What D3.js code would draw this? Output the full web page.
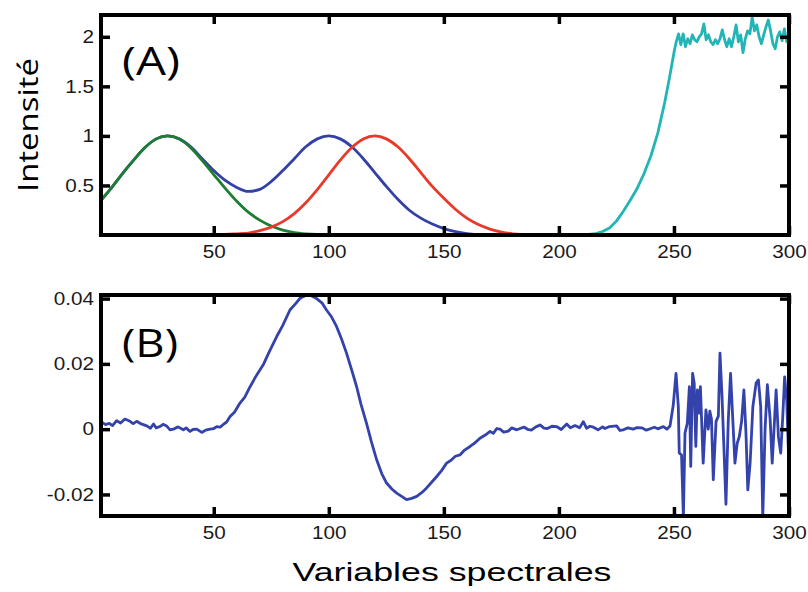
<!DOCTYPE html>
<html>
<head>
<meta charset="utf-8">
<script src="https://cdn.jsdelivr.net/npm/d3@7"></script>
<style>
  body { margin: 0; background: #fff; }
  svg { display: block; }
</style>
</head>
<body>
<script>
'use strict';

// ---- panel (A) : reference spectra ----
const greenX = [1, 5, 10, 15, 20, 25, 30, 35, 40, 45, 50, 55, 60, 65, 70, 75, 80, 85, 90, 95, 100, 105];
const greenY = [0.35, 0.46, 0.61, 0.75, 0.88, 0.97, 1.0, 0.97, 0.88, 0.75, 0.61, 0.47, 0.34, 0.23, 0.15, 0.09, 0.05, 0.025, 0.012, 0.005, 0.002, 0];

const blueX = [1, 5, 10, 15, 20, 25, 30, 35, 40, 45, 50, 55, 60, 65, 70, 75, 80, 85, 90, 95, 100,
  105, 110, 115, 120, 125, 130, 135, 140, 145, 150, 155, 160, 165];
const blueY = [0.35, 0.46, 0.61, 0.75, 0.88, 0.97, 1.0, 0.97, 0.89, 0.77, 0.65, 0.55, 0.48, 0.44, 0.46, 0.54, 0.65, 0.77, 0.89, 0.97, 1.0,
  0.97, 0.89, 0.77, 0.63, 0.49, 0.36, 0.25, 0.17, 0.11, 0.065, 0.035, 0.015, 0.004];

const redX = [1, 55, 60, 65, 70, 75, 80, 85, 90, 95, 100, 105, 110, 115, 120, 125, 130, 135, 140,
  145, 150, 155, 160, 165, 170, 175, 180, 185, 190, 300];
const redY = [0.004, 0.006, 0.012, 0.02, 0.044, 0.08, 0.135, 0.216, 0.325, 0.458, 0.607, 0.755, 0.882, 0.969, 1.0, 0.97, 0.89, 0.77, 0.63,
  0.49, 0.37, 0.26, 0.17, 0.105, 0.06, 0.03, 0.012, 0.004, 0, 0];

const cyanX = [1, 210, 213, 216, 219, 222, 225, 228, 231, 234, 237, 240, 243, 246, 248, 250, 251,
  252, 253, 254, 255, 256, 257, 258, 259, 260, 261, 262, 263, 264, 265, 266, 267, 268, 269, 270,
  271, 272, 273, 274, 275, 276, 277, 278, 279, 280, 281, 282, 283, 284, 285, 286, 287, 288, 289,
  290, 291, 292, 293, 294, 295, 296, 297, 298, 299, 300];
const cyanY = [0, 0, 0.005, 0.015, 0.035, 0.07, 0.14, 0.24, 0.35, 0.47, 0.62, 0.8, 1.03, 1.34, 1.58, 1.84, 1.95,
  2.03, 1.92, 2.03, 1.90, 1.98, 1.93, 2.02, 1.97, 1.95, 2.0, 2.03, 2.13, 1.97, 2.02, 1.95, 1.92, 1.97, 1.93, 1.98,
  2.07, 1.97, 1.90, 1.98, 1.90, 2.0, 2.12, 1.95, 2.02, 1.84, 1.98, 2.06, 2.03, 2.2, 2.06, 2.12, 2.0, 1.93, 2.02,
  2.1, 2.17, 2.06, 1.93, 1.88, 2.0, 2.05, 1.96, 2.08, 1.95, 2.04];

// ---- panel (B) : difference spectrum ----
const diffX = [1, 3, 4.6, 6, 7.8, 9.5, 11.4, 13.6, 15, 16.5, 18.5, 20.9, 22.5, 23.8, 25, 26.6, 28, 29.5, 31, 32.4, 34.5,
  36.8, 38, 39.7, 41, 42.6, 44.8, 46.5, 48.4, 50, 51.3, 52.8, 54.2, 55.6, 57.1, 59, 61.4, 63.5, 65.8, 68, 71.5, 74,
  77.3, 80, 83.1, 85.5, 87.5, 89.5, 91.8, 94.7, 97, 99, 101, 103.4, 105.5, 107.7, 110, 112.1, 114, 116.4, 118.5,
  120.8, 123, 125.1, 127.5, 129.5, 131.5, 133.8, 136, 138.2, 140.5, 142.5, 144.5, 146.9, 149, 151.2, 153, 155,
  157, 159, 161.4, 163.5, 165.7, 168, 170.1, 171.5, 173, 174.4, 176, 178, 179.5, 181.7, 183.5, 185, 186.5, 188,
  190, 191.8, 193.5, 195, 197, 199, 201, 203.4, 205, 207, 209, 210.6, 212, 213.5, 215, 217, 219, 220, 222,
  225.1, 226.5, 228, 230, 232.3, 234, 236, 238, 240, 241.5, 243, 245.4, 246.9,
  248.3, 249.7, 250.9, 251.9, 252.3, 253.3, 254.1, 254.8, 255.8, 256.7, 257.3, 258.1, 258.8, 259.5,
  260.2, 261, 261.5, 262.7, 263.9, 264.9, 265.6, 266.3, 267.1, 268.3, 269.3, 270, 270.9, 271.7, 272.6,
  273.6, 274.6, 275.5, 276.5, 277.5, 278.4, 279.4, 280.4, 281.3, 282.1, 283.1, 284.3, 285.7, 286.7,
  287.7, 288.6, 289.6, 290.6, 291.8, 292.7, 293.5, 294.4, 295.4, 296.4, 297.3, 298.1, 299, 300];
const diffY = [0.0023, 0.0014, 0.0018, 0.0011, 0.0026, 0.0019, 0.0031, 0.0024, 0.0017, 0.0024, 0.0016, 0.001, 0.0003, 0.0016,
  0.0004, 0.0008, 0.0015, 0.001, -0.0002, 0.0, 0.0007, -0.0002, 0.0004, -0.0007, -0.0001, 0.0, -0.001, -0.0003, 0.0,
  0.0002, 0.0008, 0.0006, 0.0015, 0.0022, 0.0039, 0.0052, 0.008, 0.0098, 0.013, 0.0158, 0.0197, 0.0235,
  0.0283, 0.0318, 0.0365, 0.0384, 0.0401, 0.0408, 0.0411, 0.040, 0.0387, 0.0365, 0.0346, 0.0314, 0.0277, 0.0233, 0.018,
  0.013, 0.0076, 0.0018, -0.0038, -0.0094, -0.0136, -0.0165, -0.0184, -0.0196, -0.0205, -0.0216, -0.0212, -0.0206,
  -0.0194, -0.018, -0.0164, -0.0145, -0.0127, -0.0104, -0.0096, -0.0083, -0.0079, -0.0064, -0.0053, -0.0042, -0.0028,
  -0.0018, -0.0007, -0.0013, 0.0002, 0.0, -0.0009, -0.0006, 0.0004, -0.0002, 0.0003, 0.0006, -0.0001, -0.0003,
  0.0007, 0.0013, 0.0003, 0.0002, 0.0009, 0.0008, -0.0001, 0.0016, 0.0004, 0.0011, 0.0004, 0.0023, 0.0003, 0.0009,
  0.0006, -0.0002, 0.0007, 0.0002, 0.0008, 0.001, -0.0004, -0.0002, 0.0004, 0.0, 0.0005, 0.0004, -0.0003, 0.0002,
  0.0006, 0.0001, 0.0008, 0.0,
  0.001, 0.0074, 0.0171, 0.0069, -0.0073, -0.0079, -0.027, -0.0012, 0.0018, 0.013, -0.0114, 0.0171, 0.0141, -0.0053,
  0.012, 0.0049, 0.013, -0.0104, 0.0059, 0.0, 0.0055, 0.0031, -0.0155, 0.0024, 0.004, 0.0233, 0.010, -0.0053, -0.023,
  0.0024, 0.0171, 0.004, -0.0104, -0.0043, -0.0023, 0.0024, 0.012, -0.0012, -0.0186, -0.0104, 0.0069, 0.0141, 0.0151,
  0.0069, -0.027, 0.0, 0.0136, 0.0031, -0.0104, 0.0, 0.012, -0.0023, -0.0073, 0.004, 0.016, 0.0089, -0.012];

// ---- ticks and labels ----
const xTicks = [50, 100, 150, 200, 250, 300];
const yTicksA = [0.5, 1, 1.5, 2];
const yTicksB = [-0.02, 0, 0.02, 0.04];
const yLabelA = 'Intensité';
const xLabel = 'Variables spectrales';

const W = 808, H = 592;
const plotLeft = 101, plotRight = 789;
const tickStretch = 1.15; // the reference text looks slightly stretched sideways

const svg = d3.select('body').append('svg')
  .attr('width', W)
  .attr('height', H);

const defs = svg.append('defs');
const xScale = d3.scaleLinear().domain([1, 300]).range([plotLeft, plotRight]);

function addClip(id, top, bottom) {
  defs.append('clipPath').attr('id', id)
    .append('rect')
    .attr('x', plotLeft)
    .attr('y', top)
    .attr('width', plotRight - plotLeft)
    .attr('height', bottom - top);
}

// tick labels plus inward tick marks on all four sides
function drawTicks(yScale, yTicks, top, bottom) {
  let g = svg.append('g');

  let axes = [
    [d3.axisBottom(xScale).tickValues(xTicks).tickPadding(10), 'translate(0,' + bottom + ')'],
    [d3.axisTop(xScale).tickValues(xTicks).tickFormat(() => ''), 'translate(0,' + top + ')'],
    [d3.axisLeft(yScale).tickValues(yTicks).tickFormat(d => String(d)), 'translate(' + plotLeft + ',0)'],
    [d3.axisRight(yScale).tickValues(yTicks).tickFormat(() => ''), 'translate(' + plotRight + ',0)']
  ];

  let groups = axes.map(([axis, tr]) => {
    let a = g.append('g')
      .attr('transform', tr)
      .call(axis.tickSizeInner(-9).tickSizeOuter(0));
    a.select('.domain').remove();
    a.selectAll('.tick line')
      .attr('stroke', '#000')
      .attr('stroke-width', 3.5);
    a.selectAll('.tick text')
      .style('font-family', '"Liberation Sans", Arial, sans-serif')
      .style('font-size', '18px')
      .attr('fill', '#1a1a1a');
    return a;
  });

  groups[0].selectAll('.tick text').attr('transform', 'scale(' + tickStretch + ',1)');
  groups[2].selectAll('.tick text')
    .attr('x', 0)
    .attr('transform', 'translate(-7,0) scale(' + tickStretch + ',1)');
}

function drawBox(top, bottom) {
  svg.append('rect')
    .attr('x', plotLeft)
    .attr('y', top)
    .attr('width', plotRight - plotLeft)
    .attr('height', bottom - top)
    .attr('fill', 'none')
    .attr('stroke', '#000')
    .attr('stroke-width', 4);
}

function plotSeries(xs, ys, yScale, color, clipId, smooth) {
  let line = d3.line()
    .x(d => xScale(d[0]))
    .y(d => yScale(d[1]))
    .curve(smooth ? d3.curveMonotoneX : d3.curveLinear);

  svg.append('path')
    .datum(d3.zip(xs, ys))
    .attr('clip-path', 'url(#' + clipId + ')')
    .attr('fill', 'none')
    .attr('stroke', color)
    .attr('stroke-width', 2.8)
    .attr('stroke-linejoin', 'round')
    .attr('stroke-linecap', 'round')
    .attr('d', line);
}

addClip('clipA', 15, 235);
addClip('clipB', 295, 516);

// panel A
const yA = d3.scaleLinear().domain([0, 2.22]).range([235, 15]);
plotSeries(blueX, blueY, yA, '#3340a6', 'clipA', true);
plotSeries(greenX, greenY, yA, '#1f7d32', 'clipA', true);
plotSeries(cyanX, cyanY, yA, '#22b5b5', 'clipA', false);
plotSeries(redX, redY, yA, '#e8392a', 'clipA', true);
drawTicks(yA, yTicksA, 15, 235);
drawBox(15, 235);

// panel B
const yB = d3.scaleLinear().domain([-0.0266, 0.0411]).range([516, 295]);
plotSeries(diffX, diffY, yB, '#3343ab', 'clipB', false);
drawTicks(yB, yTicksB, 295, 516);
drawBox(295, 516);

// panel letters and axis titles
svg.append('text')
  .attr('x', 122).attr('y', 75)
  .attr('textLength', 58).attr('lengthAdjust', 'spacingAndGlyphs')
  .style('font-family', '"Open Sans", sans-serif')
  .style('font-size', '38px')
  .text('(A)');

svg.append('text')
  .attr('x', 122).attr('y', 357)
  .attr('textLength', 56).attr('lengthAdjust', 'spacingAndGlyphs')
  .style('font-family', '"Open Sans", sans-serif')
  .style('font-size', '38px')
  .text('(B)');

svg.append('text')
  .attr('transform', 'translate(38,125) rotate(-90)')
  .attr('text-anchor', 'middle')
  .attr('textLength', 134).attr('lengthAdjust', 'spacingAndGlyphs')
  .style('font-family', '"Open Sans", sans-serif')
  .style('font-size', '27px')
  .text(yLabelA);

svg.append('text')
  .attr('x', 452).attr('y', 581)
  .attr('text-anchor', 'middle')
  .attr('textLength', 319).attr('lengthAdjust', 'spacingAndGlyphs')
  .style('font-family', '"Liberation Sans", Arial, sans-serif')
  .style('font-size', '25px')
  .text(xLabel);
</script>
</body>
</html>
